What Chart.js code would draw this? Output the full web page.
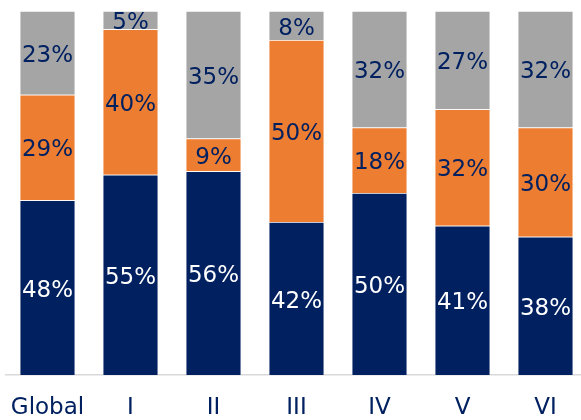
<!DOCTYPE html>
<html>
<head>
<meta charset="utf-8">
<script src="https://cdn.jsdelivr.net/npm/chart.js@4"></script>
<style>
    html, body { margin: 0; padding: 0; background: #fff; overflow: hidden; }
    #wrap { width: 588px; height: 420px; }
</style>
</head>
<body>
<div id="wrap"><canvas id="myChart" width="588" height="420"></canvas></div>
<script>
var categories = ['Global', 'I', 'II', 'III', 'IV', 'V', 'VI'];
var bottomShare = [48, 55, 56, 42, 50, 41, 38];
var middleShare = [29, 40, 9, 50, 18, 32, 30];
var topShare = [23, 5, 35, 8, 32, 27, 32];

var labelColors = ['#ffffff', '#002060', '#002060'];

// draws the percentage in the middle of each segment
var segmentLabels = {
    id: 'segmentLabels',
    afterDatasetsDraw: function(chart) {
        var ctx = chart.ctx;
        ctx.save();
        ctx.font = '23px "DejaVu Sans", Verdana, sans-serif';
        ctx.textAlign = 'center';
        ctx.textBaseline = 'middle';
        chart.data.datasets.forEach(function(ds, i) {
            var meta = chart.getDatasetMeta(i);
            meta.data.forEach(function(bar, j) {
                var y = (bar.y + bar.base) / 2 + 3;
                ctx.fillStyle = labelColors[i];
                ctx.fillText(ds.data[j] + '%', bar.x, y);
            });
        });
        ctx.restore();
    }
};

var ctx = document.getElementById('myChart').getContext('2d');
var myChart = new Chart(ctx, {
    type: 'bar',
    data: {
        labels: categories,
        datasets: [{
            data: bottomShare,
            backgroundColor: '#002060',
            borderColor: 'rgba(255,255,255,0.5)',
            borderWidth: 0.75
        }, {
            data: middleShare,
            backgroundColor: '#ED7D31',
            borderColor: 'rgba(255,255,255,0.5)',
            borderWidth: 0.75
        }, {
            data: topShare,
            backgroundColor: '#A5A5A5',
            borderColor: 'rgba(255,255,255,0.5)',
            borderWidth: 0.75
        }]
    },
    options: {
        responsive: false,
        animation: false,
        categoryPercentage: 1,
        barPercentage: 0.67,
        layout: { padding: { left: 6, right: 1, top: 11, bottom: 0 } },
        plugins: {
            legend: { display: false },
            tooltip: { enabled: false }
        },
        scales: {
            x: {
                stacked: true,
                grid: { display: false, drawTicks: false },
                border: { display: true, color: '#D9D9D9', width: 1.5 },
                ticks: {
                    color: '#002060',
                    padding: 22,
                    maxRotation: 0,
                    minRotation: 0,
                    autoSkip: false,
                    font: { family: '"DejaVu Sans", Verdana, sans-serif', size: 23, lineHeight: 1 }
                },
                // keep the axis box fixed so the plot area lands where it should
                afterFit: function(scale) {
                    scale.height = 45;
                    scale.paddingLeft = 0;
                    scale.paddingRight = 0;
                }
            },
            y: {
                stacked: true,
                display: false,
                min: 0,
                max: 100
            }
        }
    },
    plugins: [segmentLabels]
});
</script>
</body>
</html>
